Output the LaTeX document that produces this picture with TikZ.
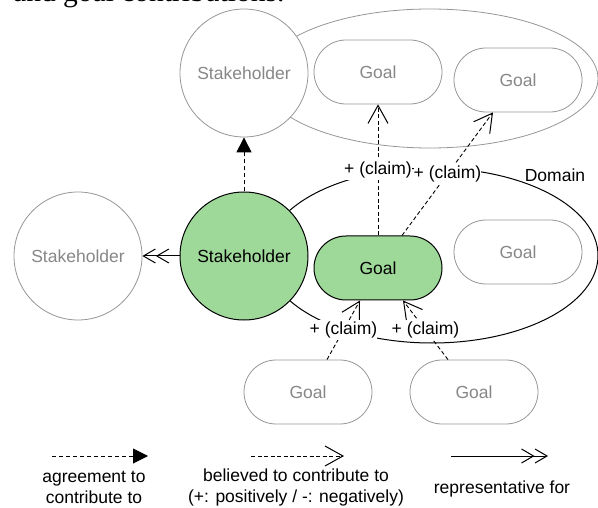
\documentclass[tikz,border=0pt]{standalone}
\usepackage{fontspec}
\setmainfont{Liberation Sans}
\newfontfamily\headserif{Liberation Serif}
\usetikzlibrary{arrows.meta}
\definecolor{stkgreen}{RGB}{158,217,153}
\definecolor{faintline}{RGB}{150,150,150}
\definecolor{fainttext}{RGB}{135,135,135}

\begin{document}
\begin{tikzpicture}[x=1pt,y=-1pt,
  font=\fontsize{17.5pt}{21pt}\selectfont,
  actor/.style={circle, minimum size=128pt, inner sep=0pt, draw=black, line width=1pt, fill=stkgreen},
  otheractor/.style={circle, minimum size=128pt, inner sep=0pt, draw=faintline, line width=0.8pt, fill=white, text=fainttext},
  goalbox/.style={rectangle, rounded corners=32pt, minimum width=128pt, minimum height=64pt, inner sep=0pt, draw=black, line width=1pt, fill=stkgreen},
  othergoal/.style={rectangle, rounded corners=32pt, minimum width=128pt, minimum height=64pt, inner sep=0pt, draw=faintline, line width=0.8pt, fill=white, text=fainttext},
  agree/.style={draw, line width=1pt, dash pattern=on 4pt off 3pt, -{Triangle[length=15pt,width=15pt]}},
  belief/.style={draw, line width=0.9pt, dash pattern=on 4pt off 2.5pt, -{Straight Barb[length=18pt,width=20pt,line width=1pt]}},
  represent/.style={draw, line width=1pt, -{Straight Barb[length=12pt,width=14pt] Straight Barb[length=12pt,width=14pt]}},
  claim/.style={fill=white, inner xsep=0pt, inner ysep=1.5pt},
  groupline/.style={draw=faintline, line width=0.8pt},
  domainline/.style={draw=black, line width=1pt},
]
\useasboundingbox (0,0) rectangle (598,508);
\clip (0,0) rectangle (598,508);

% caption line running in from above
\node[anchor=base west, inner sep=0pt, font=\headserif\fontsize{29.5pt}{33pt}\selectfont] (intro) at (13,1.5) {and goal contributions.};

% group around the upper stakeholder and its goals
\draw[groupline] (430,78.5) ellipse [x radius=168, y radius=69.5];
% domain boundary
\draw[domainline] (432,255.5) ellipse [x radius=166, y radius=87.5];

% stakeholders and goals
\node[otheractor] (ts) at (244,73) {Stakeholder};
\node[othergoal] (tg1) at (378,72) {Goal};
\node[othergoal] (tg2) at (518,80) {Goal};
\node[otheractor] (ls) at (78,256) {Stakeholder};
\node[actor] (gs) at (244,256) {Stakeholder};
\node[goalbox] (gg) at (378,268) {Goal};
\node[othergoal] (rg) at (518,252) {Goal};
\node[othergoal] (bg1) at (308,392) {Goal};
\node[othergoal] (bg2) at (474,392) {Goal};
\node (dom) at (555,175) {Domain};

% relations
\draw[agree] (gs.north) -- (ts.south);
\draw[represent] (gs.west) -- (ls.east);
\draw[belief] (gg.north) -- node[claim] (c1) {+ (claim)} (tg1.south);
\draw[belief] ([xshift=24pt]gg.north) -- node[claim] (c2) {+ (claim)} ([xshift=-25pt]tg2.south);
\draw[belief] ([xshift=19pt]bg1.north) -- node[claim] (c3) {+ (claim)} ([xshift=-18pt]gg.south);
\draw[belief] ([xshift=-26pt]bg2.north) -- node[claim] (c4) {+ (claim)} ([xshift=25pt]gg.south);

% legend
\coordinate (k1a) at (52,456);
\coordinate (k1b) at (148,456);
\draw[agree] (k1a) -- (k1b);
\node[align=center] (k1t) at (94,487.5) {agreement to\\contribute to};
\coordinate (k2a) at (251,456);
\coordinate (k2b) at (344,456);
\draw[belief] (k2a) -- (k2b);
\node[align=center] (k2t) at (296,487.5) {believed to contribute to\\(+: positively / -: negatively)};
\coordinate (k3a) at (451,456);
\coordinate (k3b) at (548,456);
\draw[represent] (k3a) -- (k3b);
\node (k3t) at (502,489) {representative for};
\end{tikzpicture}
\end{document}
